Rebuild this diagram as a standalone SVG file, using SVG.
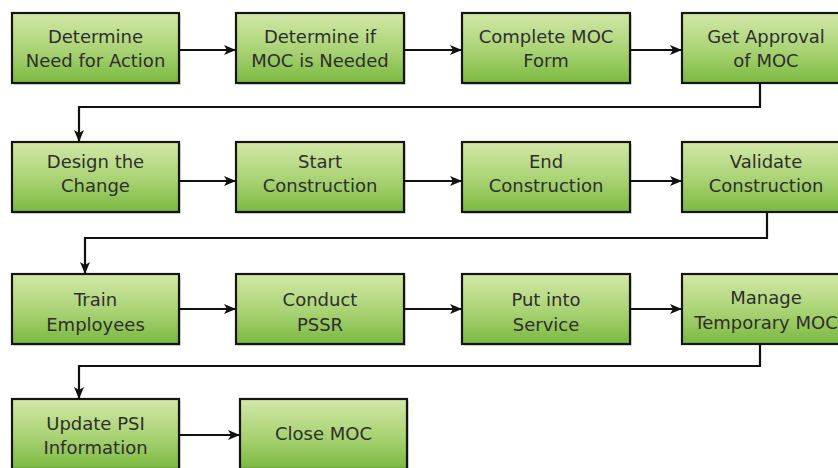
<svg xmlns="http://www.w3.org/2000/svg" width="838" height="468" viewBox="0 0 838 468">
  <defs>
    <linearGradient id="boxFill" x1="0" y1="0" x2="0" y2="1">
      <stop offset="0" stop-color="#d3e8a8"/>
      <stop offset="0.55" stop-color="#a8d272"/>
      <stop offset="1" stop-color="#7ab940"/>
    </linearGradient>
    <marker id="arrow" viewBox="0 0 12 12" refX="12" refY="6" markerWidth="12" markerHeight="12" markerUnits="userSpaceOnUse" orient="auto">
      <path d="M0,1 L12,6 L0,11 L3,6 Z" fill="#111"/>
    </marker>
  </defs>
  <style>
    .box { fill: url(#boxFill); stroke: #151515; stroke-width: 2.2; }
    .shadow { fill: #bbbbbb; opacity: 0.5; }
    .label { font-family: "DejaVu Sans", "Liberation Sans", sans-serif; font-size: 18px; fill: #2e2e2e; text-anchor: middle; }
    .conn { fill: none; stroke: #111; stroke-width: 2.2; }
  </style>
  <rect width="838" height="468" fill="#ffffff"/>

  <!-- Row 1 -->
  <g id="determine-need">
    <rect class="shadow" x="14" y="15" width="167" height="70"/>
    <rect class="box" x="12" y="13" width="167" height="70"/>
    <text class="label" x="95.5" y="43">Determine</text>
    <text class="label" x="95.5" y="67">Need for Action</text>
  </g>
  <g id="determine-moc-needed">
    <rect class="shadow" x="238" y="15" width="168" height="70"/>
    <rect class="box" x="236" y="13" width="168" height="70"/>
    <text class="label" x="320" y="43">Determine if</text>
    <text class="label" x="320" y="67">MOC is Needed</text>
  </g>
  <g id="complete-moc-form">
    <rect class="shadow" x="464" y="15" width="168" height="70"/>
    <rect class="box" x="462" y="13" width="168" height="70"/>
    <text class="label" x="546" y="43">Complete MOC</text>
    <text class="label" x="546" y="67">Form</text>
  </g>
  <g id="get-approval">
    <rect class="box" x="682" y="13" width="168" height="70"/>
    <text class="label" x="766" y="43">Get Approval</text>
    <text class="label" x="766" y="67">of MOC</text>
  </g>

  <!-- Row 2 -->
  <g id="design-change">
    <rect class="shadow" x="14" y="144" width="167" height="70"/>
    <rect class="box" x="12" y="142" width="167" height="70"/>
    <text class="label" x="95.5" y="168">Design the</text>
    <text class="label" x="95.5" y="192">Change</text>
  </g>
  <g id="start-construction">
    <rect class="shadow" x="238" y="144" width="168" height="70"/>
    <rect class="box" x="236" y="142" width="168" height="70"/>
    <text class="label" x="320" y="168">Start</text>
    <text class="label" x="320" y="192">Construction</text>
  </g>
  <g id="end-construction">
    <rect class="shadow" x="464" y="144" width="168" height="70"/>
    <rect class="box" x="462" y="142" width="168" height="70"/>
    <text class="label" x="546" y="168">End</text>
    <text class="label" x="546" y="192">Construction</text>
  </g>
  <g id="validate-construction">
    <rect class="box" x="682" y="142" width="168" height="70"/>
    <text class="label" x="766" y="168">Validate</text>
    <text class="label" x="766" y="192">Construction</text>
  </g>

  <!-- Row 3 -->
  <g id="train-employees">
    <rect class="shadow" x="14" y="276" width="167" height="70"/>
    <rect class="box" x="12" y="274" width="167" height="70"/>
    <text class="label" x="95.5" y="306">Train</text>
    <text class="label" x="95.5" y="331">Employees</text>
  </g>
  <g id="conduct-pssr">
    <rect class="shadow" x="238" y="276" width="168" height="70"/>
    <rect class="box" x="236" y="274" width="168" height="70"/>
    <text class="label" x="320" y="306">Conduct</text>
    <text class="label" x="320" y="331">PSSR</text>
  </g>
  <g id="put-into-service">
    <rect class="shadow" x="464" y="276" width="168" height="70"/>
    <rect class="box" x="462" y="274" width="168" height="70"/>
    <text class="label" x="546" y="306">Put into</text>
    <text class="label" x="546" y="331">Service</text>
  </g>
  <g id="manage-temporary-moc">
    <rect class="box" x="682" y="274" width="168" height="70"/>
    <text class="label" x="766" y="304">Manage</text>
    <text class="label" x="766" y="329">Temporary MOC</text>
  </g>

  <!-- Row 4 -->
  <g id="update-psi">
    <rect class="shadow" x="14" y="401" width="167" height="70"/>
    <rect class="box" x="12" y="399" width="167" height="70"/>
    <text class="label" x="95.5" y="430">Update PSI</text>
    <text class="label" x="95.5" y="454">Information</text>
  </g>
  <g id="close-moc">
    <rect class="shadow" x="242" y="401" width="167" height="70"/>
    <rect class="box" x="240" y="399" width="167" height="70"/>
    <text class="label" x="323.5" y="440">Close MOC</text>
  </g>

  <!-- Connectors -->
  <g id="connectors">
    <path class="conn" d="M179,50 H236" marker-end="url(#arrow)"/>
    <path class="conn" d="M404,50 H462" marker-end="url(#arrow)"/>
    <path class="conn" d="M630,50 H682" marker-end="url(#arrow)"/>
    <path class="conn" d="M760,83 V107 H79 V142" marker-end="url(#arrow)"/>

    <path class="conn" d="M179,181 H236" marker-end="url(#arrow)"/>
    <path class="conn" d="M404,181 H462" marker-end="url(#arrow)"/>
    <path class="conn" d="M630,181 H682" marker-end="url(#arrow)"/>
    <path class="conn" d="M767,212 V238 H85 V274" marker-end="url(#arrow)"/>

    <path class="conn" d="M179,309 H236" marker-end="url(#arrow)"/>
    <path class="conn" d="M404,309 H462" marker-end="url(#arrow)"/>
    <path class="conn" d="M630,309 H682" marker-end="url(#arrow)"/>
    <path class="conn" d="M760,344 V366 H79 V399" marker-end="url(#arrow)"/>

    <path class="conn" d="M179,435 H240" marker-end="url(#arrow)"/>
  </g>
</svg>
